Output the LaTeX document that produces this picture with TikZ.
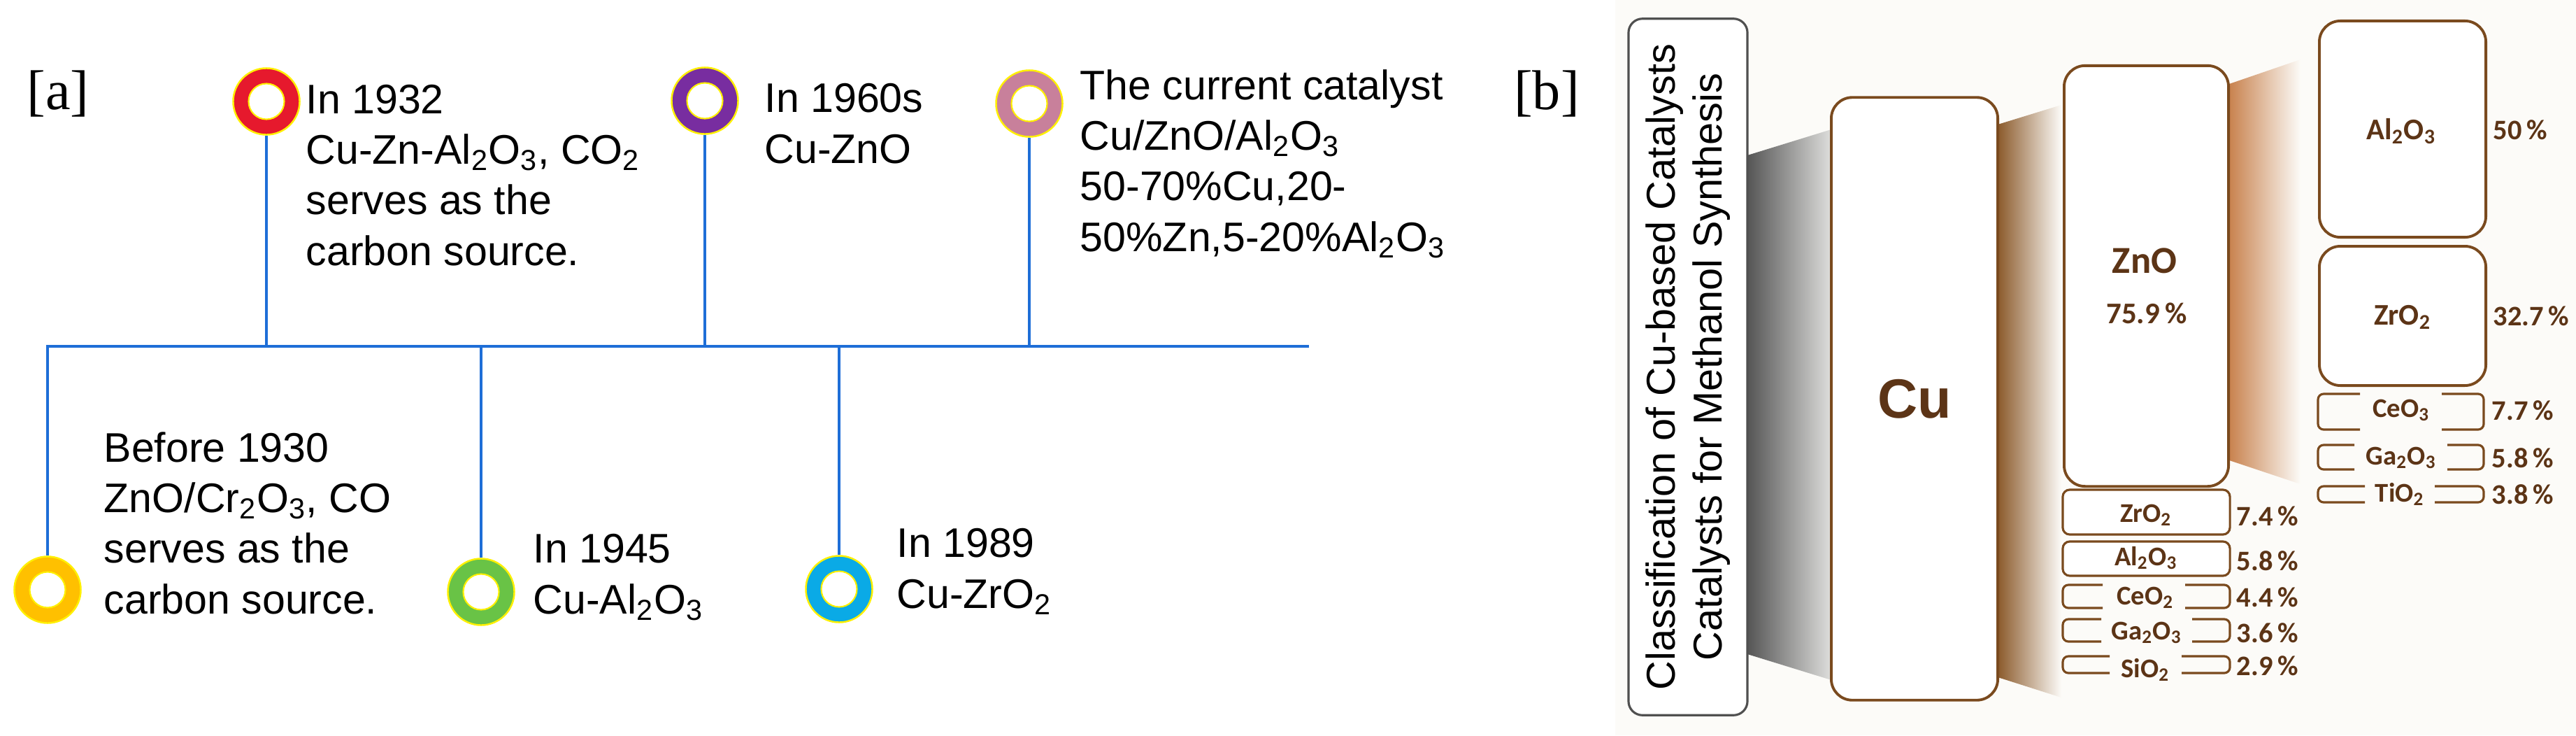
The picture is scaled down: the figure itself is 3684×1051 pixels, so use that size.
\documentclass[tikz,border=0pt]{standalone}
\usepackage{fontspec}
\setmainfont{Liberation Serif}
\newfontfamily\arialf{Liberation Sans}
\newfontfamily\calibf{Carlito}
\definecolor{axisblue}{RGB}{30,110,215}
\definecolor{ringred}{RGB}{230,25,45}
\definecolor{ringpurple}{RGB}{120,45,160}
\definecolor{ringpink}{RGB}{200,128,155}
\definecolor{ringgold}{RGB}{255,192,0}
\definecolor{ringgreen}{RGB}{105,195,70}
\definecolor{ringblue}{RGB}{10,170,230}
\definecolor{ringedge}{RGB}{255,240,0}
\definecolor{brownline}{RGB}{122,74,30}
\definecolor{browntext}{RGB}{92,52,22}
\definecolor{bgb}{RGB}{252,251,248}
\definecolor{funA}{RGB}{139,90,43}
\definecolor{funB}{RGB}{200,130,78}
\definecolor{funG}{RGB}{85,85,85}
\definecolor{funGl}{RGB}{222,222,220}
\definecolor{grayline}{RGB}{80,80,80}
\newcommand\afont{\arialf\fontsize{16.8pt}{20.5pt}\selectfont\lineskiplimit=-30pt}
\newcommand\pfont{\rmfamily\fontsize{22.8pt}{26pt}\selectfont}
\newcommand\clsfont{\arialf\fontsize{16.4pt}{19.3pt}\selectfont\lineskiplimit=-30pt}
\newcommand\cufont{\arialf\bfseries\fontsize{22.5pt}{25pt}\selectfont}
\newcommand\znofont{\calibf\bfseries\fontsize{15.5pt}{18pt}\selectfont}
\newcommand\blfont{\calibf\bfseries\fontsize{12.2pt}{14pt}\selectfont}
\newcommand\slfont{\calibf\bfseries\fontsize{11pt}{13pt}\selectfont}
\newcommand\pctfont{\calibf\bfseries\fontsize{11.5pt}{13pt}\selectfont}
\newcommand\sub[1]{\textsubscript{#1}}
\begin{document}
\begin{tikzpicture}[x=0.01cm,y=-0.01cm,
  ring/.style={circle, fill=#1, draw=ringedge, line width=0.7pt, minimum size=0.95cm, inner sep=0pt,
    path picture={\draw[fill=white, draw=ringedge, line width=0.6pt] (path picture bounding box.center) circle (0.255cm);}},
  stem/.style={draw=axisblue, line width=1.4pt},
  evt/.style={anchor=base west, align=left, inner sep=0pt, font=\afont},
  panel/.style={font=\pfont, inner sep=0pt},
  bbox/.style={draw=brownline, line width=1.1pt, rounded corners=0.3cm, fill=white, inner sep=0pt},
  sbox/.style={draw=brownline, line width=0.9pt, rounded corners=0.1cm, fill=white, inner sep=0pt},
  brk/.style={draw=brownline, line width=0.9pt, rounded corners=0.08cm},
  blab/.style={font=\blfont, text=browntext, anchor=base, inner sep=0pt},
  slab/.style={font=\slfont, text=browntext, anchor=base, inner sep=0pt},
  pct/.style={font=\pctfont, text=browntext, anchor=base west, inner sep=0pt},
]
\useasboundingbox (0,0) rectangle (3684,1051);
\fill[white] (0,0) rectangle (3684,1051);
\fill[bgb] (2310,0) rectangle (3684,1051);

% ---------------- panel (a) ----------------
\node[panel] (pa) at (83,134) {[a]};
\coordinate (axL) at (68,495);
\coordinate (axR) at (1872,495);

\node[ring=ringred]    (r1) at (381,145) {};
\node[ring=ringpurple] (r2) at (1008,144) {};
\node[ring=ringpink]   (r3) at (1472,148) {};
\node[ring=ringgold]   (r4) at (68,843) {};
\node[ring=ringgreen]  (r5) at (688,846) {};
\node[ring=ringblue]   (r6) at (1200,842) {};

\draw[stem] (axR) -- (axL) -- (r4);
\draw[stem] (r1) -- (r1 |- axL);
\draw[stem] (r2) -- (r2 |- axL);
\draw[stem] (r3) -- (r3 |- axL);
\draw[stem] (r5) -- (r5 |- axL);
\draw[stem] (r6) -- (r6 |- axL);

% anchor = baseline of the last line
\node[evt] (t1) at (437,379) {In 1932\\Cu-Zn-Al\sub{2}O\sub{3}, CO\sub{2}\\serves as the\\carbon source.};
\node[evt] (t2) at (1093,233) {In 1960s\\Cu-ZnO};
\node[evt] (t3) at (1544,359) {The current catalyst\\Cu/ZnO/Al\sub{2}O\sub{3}\\50-70\%Cu,20-\\50\%Zn,5-20\%Al\sub{2}O\sub{3}};
\node[evt] (t4) at (148,877) {Before 1930\\ZnO/Cr\sub{2}O\sub{3}, CO\\serves as the\\carbon source.};
\node[evt] (t5) at (762,877) {In 1945\\Cu-Al\sub{2}O\sub{3}};
\node[evt] (t6) at (1282,869) {In 1989\\Cu-ZrO\sub{2}};

% ---------------- panel (b) ----------------
\node[panel] (pb) at (2212,134) {[b]};

% funnels
\shade[left color=funG, right color=funGl] (2499,222) -- (2619,185) -- (2619,972) -- (2499,935) -- cycle;
\shade[left color=funA, right color=bgb] (2857,178) -- (2948,150) -- (2948,997) -- (2857,968) -- cycle;
\shade[left color=funB, right color=bgb] (3188,120) -- (3290,85) -- (3290,692) -- (3188,658) -- cycle;

\node[draw=grayline, line width=0.9pt, rounded corners=0.2cm, fill=white, rotate=90,
      minimum width=9.95cm, minimum height=1.7cm, align=center, font=\clsfont, inner sep=0pt]
      (cls) at (2414,524.5) {Classification of Cu-based Catalysts\\Catalysts for Methanol Synthesis};

\node[bbox, minimum width=2.38cm, minimum height=8.61cm, font=\cufont, text=browntext] (cu) at (2738,570) {Cu};

\node[bbox, minimum width=2.35cm, minimum height=6.01cm] (zno) at (3069.5,394.5) {};
\node[font=\znofont, text=browntext, inner sep=0pt] (znol) at (3067,373) {ZnO};
\node[font=\blfont, text=browntext, inner sep=0pt] (znop) at (3070,448) {75.9\,\%};

% right column
\node[bbox, minimum width=2.38cm, minimum height=3.09cm] (ral) at (3436,184.5) {};
\node[blab] (rall) at (3434,199) {Al\sub{2}O\sub{3}};
\node[pct] (ralp) at (3565,199) {50\,\%};
\node[bbox, minimum width=2.38cm, minimum height=1.99cm] (rzr) at (3436,451.5) {};
\node[blab] (rzrl) at (3436,464) {ZrO\sub{2}};
\node[pct] (rzrp) at (3565,465) {32.7\,\%};

\draw[brk] (3375,563) -| (3315,614) -- (3375,614);
\draw[brk] (3492,563) -| (3552,614) -- (3492,614);
\node[slab] (rcel) at (3434,596) {CeO\sub{3}};
\node[pct] (rcep) at (3563,600) {7.7\,\%};

\draw[brk] (3367,636) -| (3315,671) -- (3367,671);
\draw[brk] (3500,636) -| (3552,671) -- (3500,671);
\node[slab] (rgal) at (3434,664) {Ga\sub{2}O\sub{3}};
\node[pct] (rgap) at (3563,668) {5.8\,\%};

\draw[brk] (3382,695) -| (3315,718) -- (3382,718);
\draw[brk] (3482,695) -| (3552,718) -- (3482,718);
\node[slab] (rtil) at (3432,717) {TiO\sub{2}};
\node[pct] (rtip) at (3563,720) {3.8\,\%};

% left column under ZnO
\node[sbox, minimum width=2.39cm, minimum height=0.64cm] (lzr) at (3069.5,732) {};
\node[slab] (lzrl) at (3069,746) {ZrO\sub{2}};
\node[pct] (lzrp) at (3198,751) {7.4\,\%};
\node[sbox, minimum width=2.39cm, minimum height=0.49cm] (lal) at (3069.5,798.5) {};
\node[slab] (lall) at (3069,808) {Al\sub{2}O\sub{3}};
\node[pct] (lalp) at (3198,815) {5.8\,\%};

\draw[brk] (3007,836) -| (2950,869) -- (3007,869);
\draw[brk] (3125,836) -| (3189,869) -- (3125,869);
\node[slab] (lcel) at (3068,864) {CeO\sub{2}};
\node[pct] (lcep) at (3198,867) {4.4\,\%};

\draw[brk] (3005,885) -| (2950,917) -- (3005,917);
\draw[brk] (3135,885) -| (3189,917) -- (3135,917);
\node[slab] (lgal) at (3070,914) {Ga\sub{2}O\sub{3}};
\node[pct] (lgap) at (3198,918) {3.6\,\%};

\draw[brk] (3017,938) -| (2950,962) -- (3017,962);
\draw[brk] (3120,938) -| (3189,962) -- (3120,962);
\node[slab] (lsil) at (3068,968) {SiO\sub{2}};
\node[pct] (lsip) at (3198,965) {2.9\,\%};
\end{tikzpicture}
\end{document}
